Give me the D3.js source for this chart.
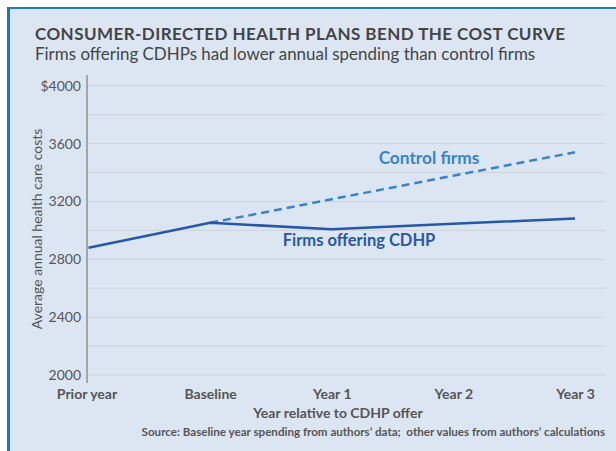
<!DOCTYPE html>
<html><head><meta charset="utf-8">
<script src="https://cdn.jsdelivr.net/npm/d3@7"></script>
<style>
html,body{margin:0;padding:0;background:#fff;}
svg{display:block;font-family:"Open Sans","Noto Sans",sans-serif;}
</style></head>
<body>
<svg id="chart" width="616" height="451"></svg>
<script>
const categories = ["Prior year","Baseline","Year 1","Year 2","Year 3"];
const cdhpValues = [2880, 3052, 3008, 3045, 3082];
const controlCategories = ["Baseline","Year 1","Year 2","Year 3"];
const controlValues = [3052, 3215, 3378, 3540];
const yTicks = [2000, 2400, 2800, 3200, 3600, 4000];
const yGrid = [2000, 2200, 2400, 2600, 2800, 3000, 3200, 3400, 3600, 3800, 4000];
const titleText = "CONSUMER-DIRECTED HEALTH PLANS BEND THE COST CURVE";
const subtitleText = "Firms offering CDHPs had lower annual spending than control firms";
const yAxisTitle = "Average annual health care costs";
const xAxisTitle = "Year relative to CDHP offer";
const sourceText = "Source: Baseline year spending from authors\u2019 data;  other values from authors\u2019 calculations";

const svg = d3.select("#chart");
// panel
svg.append("rect").attr("x",7).attr("y",7).attr("width",609).attr("height",444).attr("fill","#dce6f3");
svg.append("rect").attr("x",7).attr("y",7).attr("width",609).attr("height",2).attr("fill","#1f7bc4");
svg.append("rect").attr("x",7).attr("y",7).attr("width",3).attr("height",444).attr("fill","#1a78c2");

svg.append("text").attr("x",35).attr("y",40).text(titleText)
  .attr("font-family","Lato, sans-serif").attr("font-weight",700).attr("font-size",17)
  .attr("letter-spacing",0.44).attr("fill","#444");
svg.append("text").attr("x",35).attr("y",60).text(subtitleText)
  .attr("font-family","Lato, sans-serif").attr("font-size",16.95).attr("fill","#444");

const x = d3.scalePoint().domain(categories).range([88.5, 575]);
const y = d3.scaleLinear().domain([2000, 4000]).range([375, 85.7]);

// gridlines
svg.append("g").selectAll("line").data(yGrid).join("line")
  .attr("x1",88).attr("x2",605).attr("y1",d=>y(d)).attr("y2",d=>y(d))
  .attr("stroke","#cfd3da").attr("stroke-width",1);

// y axis
const yAxis = d3.axisLeft(y).tickValues(yTicks).tickSize(0).tickPadding(6)
  .tickFormat(d => d === 4000 ? "$" + d : d);
const gy = svg.append("g").attr("transform","translate(87,0)").call(yAxis);
gy.select(".domain").remove();
gy.selectAll("text").attr("font-family","Lato, sans-serif").attr("font-size",14).attr("fill","#555");
svg.append("line").attr("x1",87).attr("x2",87).attr("y1",75).attr("y2",383).attr("stroke","#666").attr("stroke-width",1);

// x axis
const xAxis = d3.axisBottom(x).tickSize(0).tickPadding(0);
const gx = svg.append("g").attr("transform","translate(0,389)").call(xAxis);
gx.select(".domain").remove();
gx.selectAll("text").attr("font-family","Lato, sans-serif").attr("font-weight",700).attr("font-size",14).attr("fill","#555").attr("dy","0.71em");
gx.selectAll(".tick").filter(d => d === "Prior year").select("text").attr("dx", -2);

svg.append("text").attr("x",338).attr("y",418).attr("text-anchor","middle").text(xAxisTitle)
  .attr("font-family","Lato, sans-serif").attr("font-weight",700).attr("font-size",14).attr("fill","#555");
svg.append("text").attr("x",605).attr("y",436).attr("text-anchor","end").text(sourceText)
  .style("white-space","pre")
  .attr("font-family","Lato, sans-serif").attr("font-weight",700).attr("font-size",11.6).attr("fill","#555");
svg.append("text").attr("transform","translate(42,229) rotate(-90)").attr("text-anchor","middle").text(yAxisTitle)
  .attr("font-family","Lato, sans-serif").attr("font-size",14).attr("fill","#555");

const line = d3.line().x(d=>x(d[0])).y(d=>y(d[1]));
svg.append("path").datum(controlCategories.map((c,i)=>[c,controlValues[i]]))
  .attr("d",line).attr("fill","none").attr("stroke","#3584cc").attr("stroke-width",2.5).attr("stroke-dasharray","8,5");
svg.append("path").datum(categories.map((c,i)=>[c,cdhpValues[i]]))
  .attr("d",line).attr("fill","none").attr("stroke","#2757a8").attr("stroke-width",2.5);

svg.append("text").attr("x",429).attr("y",164).attr("text-anchor","middle").text("Control firms")
  .attr("font-family","Lato, sans-serif").attr("font-weight",700).attr("font-size",17.3).attr("fill","#3584cc");
svg.append("text").attr("x",359).attr("y",246).attr("text-anchor","middle").text("Firms offering CDHP")
  .attr("font-family","Lato, sans-serif").attr("font-weight",700).attr("font-size",16.5).attr("fill","#2757a8");
</script>
</body></html>
